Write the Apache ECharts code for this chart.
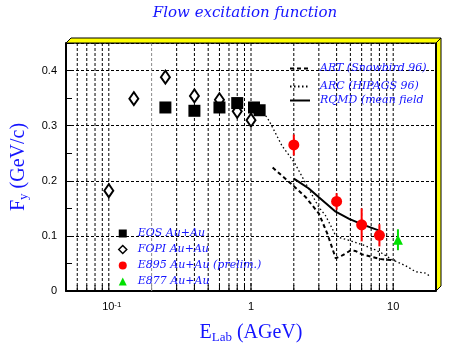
<!DOCTYPE html>
<html>
<head>
<meta charset="utf-8">
<script src="https://cdn.jsdelivr.net/npm/echarts@6/dist/echarts.min.js"></script>
<style>
  html, body { margin: 0; padding: 0; background: #fff; }
  #chart { width: 460px; height: 343px; }
</style>
</head>
<body>
<div id="chart"></div>
<script>
// Directed flow F_y (GeV/c) versus beam energy E_Lab (AGeV)

// EOS Au+Au
const eosE = [0.25, 0.4, 0.6, 0.8, 1.05, 1.15];
const eosF = [0.333, 0.327, 0.333, 0.341, 0.333, 0.328];

// FOPI Au+Au
const fopiE = [0.1, 0.15, 0.25, 0.4, 0.6, 0.8, 1.0];
const fopiF = [0.182, 0.349, 0.388, 0.354, 0.347, 0.326, 0.310];

// E895 Au+Au (preliminary) with errors
const e895E = [2, 4, 6, 8];
const e895F = [0.265, 0.1625, 0.120, 0.101];
const e895Err = [0.019, 0.015, 0.030, 0.020];

// E877 Au+Au with error
const e877E = [10.8];
const e877F = [0.093];
const e877Err = [0.019];

// Model curves
const artE = [1.42, 1.86, 2.43, 3.01, 3.44, 3.94, 4.39, 5.03, 5.45, 6.05, 7.13, 8.4, 10.3];
const artF = [0.224, 0.1975, 0.170, 0.140, 0.104, 0.0595, 0.0647, 0.0737, 0.0725, 0.0665, 0.0616, 0.0574, 0.0556];

const arcE = [1.18, 1.34, 1.655, 2.01, 2.43, 3.0, 3.34, 3.73, 3.94, 4.3, 4.89, 6.05, 7.3, 8.4, 9.8, 12.2, 14.4, 16.8, 17.9];
const arcF = [0.330, 0.309, 0.263, 0.234, 0.195, 0.152, 0.137, 0.113, 0.100, 0.096, 0.092, 0.084, 0.076, 0.068, 0.057, 0.046, 0.035, 0.0326, 0.028];

const rqmdE = [2.0, 2.17, 2.55, 3.0, 3.94, 4.9, 6.05, 7.9];
const rqmdF = [0.204, 0.198, 0.186, 0.170, 0.144, 0.131, 0.121, 0.110];

// Axes
const xMin = 0.05, xMax = 20;
const yMin = 0, yMax = 0.45, yStep = 0.1;
const xGridValues = [0.06, 0.07, 0.08, 0.09, 0.1, 0.2, 0.3, 0.4, 0.5, 0.6, 0.7, 0.8, 0.9,
                     1, 2, 3, 4, 5, 6, 7, 8, 9, 10];
const xMajorValues = [0.1, 1, 10];
const xTickLabels = ['{b|10}{sup|-1}', '1', '10'];
const xGrayValues = [0.2];

// Layout
const G = { left: 66, top: 43, right: 436, bottom: 291 };
const DEPTH = 5;
const BLUE = '#1414ff';
const LEGEND_FONT = 'DejaVu Serif';

const pairs = (xs, ys) => xs.map((x, i) => [x, ys[i]]);
const bars = (xs, ys, es) => xs.map((x, i) => [x, ys[i] - es[i], ys[i] + es[i]]);

function errorBars(name, data, color) {
  return {
    type: 'custom', name, data, z: 4, silent: true,
    encode: { x: 0, y: [1, 2] },
    renderItem(params, api) {
      const lo = api.coord([api.value(0), api.value(1)]);
      const hi = api.coord([api.value(0), api.value(2)]);
      return { type: 'line', shape: { x1: lo[0], y1: lo[1], x2: hi[0], y2: hi[1] },
               style: { stroke: color, lineWidth: 2 } };
    }
  };
}

const legendText = { color: BLUE, fontStyle: 'italic', fontSize: 11, fontFamily: LEGEND_FONT, lineHeight: 10 };
function curveLegend(name, top) {
  return {
    data: [name], left: 289, top, itemWidth: 20, itemHeight: 10, padding: 0,
    selectedMode: false,
    itemStyle: { opacity: 0, color: 'rgba(0,0,0,0)', borderWidth: 0 },
    textStyle: Object.assign({ padding: [0, 0, 0, 5] }, legendText)
  };
}

const chart = echarts.init(document.getElementById('chart'), null, { renderer: 'canvas' });

chart.setOption({
  animation: false,
  backgroundColor: '#fff',
  grid: {
    left: G.left, top: G.top, width: G.right - G.left, height: G.bottom - G.top,
    show: true, borderColor: '#000', borderWidth: 1,
    containLabel: false, outerBoundsMode: 'none'
  },
  xAxis: {
    type: 'log', logBase: 10, min: xMin, max: xMax,
    axisLine: { show: true, onZero: false, lineStyle: { color: '#000', width: 2 } },
    axisTick: { show: false },
    minorTick: { show: false },
    splitLine: { show: false },
    axisLabel: {
      margin: 10, color: '#000', fontSize: 11, fontFamily: 'Liberation Sans',
      showMinLabel: false, showMaxLabel: false,
      formatter(v) {
        const i = xMajorValues.findIndex(m => Math.abs(Math.log10(v) - Math.log10(m)) < 1e-6);
        return i < 0 ? '' : xTickLabels[i];
      },
      rich: {
        b: { fontSize: 11, fontFamily: 'Liberation Sans', color: '#000', padding: [0, 0, 0, 6] },
        sup: { fontSize: 8, fontFamily: 'Liberation Sans', color: '#000', verticalAlign: 'top', lineHeight: 8 }
      }
    },
    name: '{e|E}{sub|Lab}{e| (AGeV)}',
    nameLocation: 'middle', nameGap: 31,
    nameTextStyle: {
      rich: {
        e: { fontSize: 20, fontFamily: 'Liberation Serif', color: BLUE, lineHeight: 22 },
        sub: { fontSize: 13, fontFamily: 'Liberation Serif', color: BLUE, lineHeight: 6, verticalAlign: 'bottom' }
      }
    }
  },
  yAxis: {
    type: 'value', min: yMin, max: yMax, interval: yStep,
    axisLine: { show: true, onZero: false, lineStyle: { color: '#000', width: 2 } },
    axisTick: { show: true, inside: true, length: 6, lineStyle: { color: '#000' } },
    minorTick: { show: true, splitNumber: 2, length: 6, lineStyle: { color: '#000' } },
    splitLine: { show: true, lineStyle: { color: '#000', width: 1, type: [3, 2] } },
    axisLabel: { margin: 9, color: '#000', fontSize: 11, fontFamily: 'Liberation Sans', showMaxLabel: false },
    name: '{f|F}{sub|y}{f| (GeV/c)}',
    nameLocation: 'middle', nameRotate: 90, nameGap: 36,
    nameTextStyle: {
      rich: {
        f: { fontSize: 20, fontFamily: 'Liberation Serif', color: BLUE, lineHeight: 22 },
        sub: { fontSize: 13, fontFamily: 'Liberation Serif', color: BLUE, lineHeight: 6, verticalAlign: 'bottom' }
      }
    }
  },
  legend: [
    {
      data: ['EOS Au+Au',
             { name: 'FOPI Au+Au', itemStyle: { borderWidth: 1.5 } },
             'E895 Au+Au (prelim.)', 'E877 Au+Au'],
      orient: 'vertical', left: 118, top: 228,
      itemWidth: 8, itemHeight: 8, itemGap: 5, padding: 0,
      selectedMode: false,
      textStyle: Object.assign({ padding: [0, 0, 0, 6] }, legendText)
    },
    curveLegend('ART (Snowbird 96)', 63),
    curveLegend('ARC (HIPAGS 96)', 81),
    curveLegend('RQMD (mean field', 95)
  ],
  graphic: [
    {
      type: 'text', x: 245, y: 13, z: 10,
      style: { text: 'Flow excitation function', fill: BLUE, textAlign: 'center', textVerticalAlign: 'middle',
               font: 'italic 15px "DejaVu Serif"' }
    },
    // raised frame edges
    {
      type: 'polygon', z: 10, silent: true,
      shape: { points: [[G.left, G.top], [G.left + DEPTH, G.top - DEPTH], [G.right + DEPTH, G.top - DEPTH], [G.right, G.top]] },
      style: { fill: '#ffff00', stroke: '#000', lineWidth: 1 }
    },
    {
      type: 'polygon', z: 10, silent: true,
      shape: { points: [[G.right, G.top], [G.right + DEPTH, G.top - DEPTH], [G.right + DEPTH, G.bottom - DEPTH], [G.right, G.bottom]] },
      style: { fill: '#ffff00', stroke: '#000', lineWidth: 1 }
    },
    {
      type: 'line', z: 11, silent: true,
      shape: { x1: G.right, y1: G.top, x2: G.right, y2: G.bottom },
      style: { stroke: '#000', lineWidth: 2 }
    }
  ],
  series: [
    {
      // vertical log grid with bottom ticks
      type: 'custom', name: 'xgrid', silent: true, z: 1,
      data: xGridValues.map(v => [v, 0]),
      encode: { x: 0, y: 1 },
      renderItem(params, api) {
        const v = api.value(0);
        const top = api.coord([v, yMax]);
        const bot = api.coord([v, yMin]);
        const gray = xGrayValues.some(g => Math.abs(g - v) < 1e-9);
        const major = xMajorValues.some(g => Math.abs(g - v) < 1e-9);
        const color = gray ? '#8a8a8a' : '#000';
        return {
          type: 'group',
          children: [
            { type: 'line', shape: { x1: top[0], y1: top[1], x2: bot[0], y2: bot[1] },
              style: { stroke: color, lineWidth: 1, lineDash: [3, 2] } },
            { type: 'line', shape: { x1: bot[0], y1: bot[1], x2: bot[0], y2: bot[1] - (major ? 8 : 6) },
              style: { stroke: color, lineWidth: 1 } }
          ]
        };
      }
    },
    {
      name: 'ART (Snowbird 96)', type: 'line', data: pairs(artE, artF),
      symbol: 'none', showSymbol: false, z: 3,
      lineStyle: { color: '#000', width: 2, type: [4, 3] }, itemStyle: { color: '#000' }
    },
    {
      name: 'ARC (HIPAGS 96)', type: 'line', data: pairs(arcE, arcF),
      symbol: 'none', showSymbol: false, z: 3,
      lineStyle: { color: '#000', width: 1.3, type: [1.5, 2.5] }, itemStyle: { color: '#000' }
    },
    {
      name: 'RQMD (mean field', type: 'line', data: pairs(rqmdE, rqmdF),
      symbol: 'none', showSymbol: false, z: 3,
      lineStyle: { color: '#000', width: 2, type: 'solid' }, itemStyle: { color: '#000' }
    },
    errorBars('e895-err', bars(e895E, e895F, e895Err), '#ff0000'),
    errorBars('e877-err', bars(e877E, e877F, e877Err), '#00e000'),
    {
      name: 'FOPI Au+Au', type: 'scatter', data: pairs(fopiE, fopiF), z: 5,
      symbol: 'diamond', symbolSize: [9, 13],
      itemStyle: { color: '#fff', borderColor: '#000', borderWidth: 2, opacity: 1 }
    },
    {
      name: 'EOS Au+Au', type: 'scatter', data: pairs(eosE, eosF), z: 6,
      symbol: 'rect', symbolSize: 12,
      itemStyle: { color: '#000', opacity: 1 }
    },
    {
      name: 'E895 Au+Au (prelim.)', type: 'scatter', data: pairs(e895E, e895F), z: 6,
      symbol: 'circle', symbolSize: 11,
      itemStyle: { color: '#ff0000', opacity: 1 }
    },
    {
      name: 'E877 Au+Au', type: 'scatter', data: pairs(e877E, e877F), z: 6,
      symbol: 'triangle', symbolSize: [10, 10],
      itemStyle: { color: '#00e000', opacity: 1 }
    }
  ]
});
</script>
</body>
</html>
